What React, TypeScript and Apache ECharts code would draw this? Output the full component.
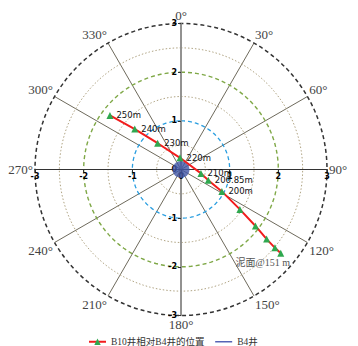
import React, { useEffect, useRef } from 'react';
import * as echarts from 'echarts';

// Offsets of B10 relative to B4 (east = x, north = y)
const depthLabels = ['250m', '240m', '230m', '220m', '210m', '206.85m', '200m', '', '', '', '', '泥面@151 m'];
const eastOffsets = [-1.46, -0.95, -0.48, -0.02, 0.41, 0.56, 0.84, 1.21, 1.53, 1.76, 1.93, 2.05];
const northOffsets = [1.11, 0.83, 0.54, 0.24, -0.08, -0.22, -0.45, -0.82, -1.16, -1.43, -1.61, -1.72];

const axisTicks = [-3, -2, -1, 0, 1, 2, 3];
const ringRadii = [0.5, 1, 1.5, 2, 2.5];
const angleTicks = [0, 30, 60, 90, 120, 150, 180, 210, 240, 270, 300, 330];

const seriesB10 = 'B10井相对B4井的位置';
const seriesB4 = 'B4井';

const ringStyles: Record<string, any> = {
  '0.5': { color: '#b0a483', type: [1.5, 2], width: 1 },
  '1': { color: '#2a9ee0', type: [4, 3], width: 1.3 },
  '1.5': { color: '#b0a483', type: [1.5, 2], width: 1 },
  '2': { color: '#7fa847', type: [4, 3], width: 1.4 },
  '2.5': { color: '#b0a483', type: [1.5, 2], width: 1 },
};

function ringPoints(r: number): number[][] {
  const pts: number[][] = [];
  for (let d = 0; d <= 360; d += 3) {
    const a = (d * Math.PI) / 180;
    pts.push([r * Math.sin(a), r * Math.cos(a)]);
  }
  return pts;
}

export default function App() {
  const ref = useRef<HTMLDivElement>(null);
  useEffect(() => {
    const chart = echarts.init(ref.current!, null, { renderer: 'svg' });
    const cx = 181;
    const cy = 169.5;
    const R = 146;

    const ringSeries = ringRadii.map((r) => ({
      type: 'line',
      name: 'ring' + r,
      data: ringPoints(r),
      symbol: 'none',
      silent: true,
      smooth: false,
      lineStyle: ringStyles[String(r)],
      z: 1,
    }));

    const b10Data = eastOffsets.map((x, i) => {
      const item: any = { value: [x, northOffsets[i]] };
      const lab = depthLabels[i];
      if (lab) {
        if (lab.indexOf('泥面') >= 0) {
          item.label = {
            show: true,
            position: 'bottom',
            offset: [-18, -4],
            formatter: lab,
            fontFamily: 'Liberation Serif, Noto Sans CJK SC, serif',
            fontSize: 10,
            color: '#555',
          };
        } else {
          item.label = {
            show: true,
            position: 'right',
            distance: 3,
            formatter: lab,
            fontFamily: 'DejaVu Sans, sans-serif',
            fontSize: 8.5,
            color: '#111',
          };
        }
      }
      return item;
    });

    const axisLabelStyle = {
      fontSize: 8,
      fontWeight: 'bold',
      color: '#000',
      fontFamily: 'DejaVu Sans, sans-serif',
      formatter: (v: number) => (axisTicks.indexOf(v) >= 0 ? String(v) : ''),
    };

    const option: any = {
      animation: false,
      backgroundColor: '#fff',
      legend: {
        left: 83,
        top: 332,
        itemWidth: 17,
        itemHeight: 8,
        itemGap: 10,
        data: [
          { name: seriesB10 },
          { name: seriesB4, itemStyle: { color: 'rgba(0,0,0,0)', opacity: 0 }, lineStyle: { color: '#5563b5', width: 1.5 } },
        ],
        textStyle: {
          fontFamily: 'Liberation Serif, Noto Sans CJK SC, serif',
          fontSize: 9.5,
          color: '#333',
        },
      },
      polar: { center: [cx, cy], radius: R },
      angleAxis: {
        type: 'value',
        min: 0,
        max: 360,
        interval: 30,
        startAngle: 90,
        clockwise: true,
        axisLine: { show: true, lineStyle: { color: '#333', type: [4, 3], width: 1.5 } },
        axisTick: { show: false },
        splitLine: { show: true, lineStyle: { color: '#6e6a5c', width: 1 } },
        axisLabel: {
          margin: 2,
          fontFamily: 'Liberation Serif, serif',
          fontSize: 13,
          color: '#444',
          formatter: (v: number) => (angleTicks.indexOf(v) >= 0 ? v + '°' : ''),
        },
      },
      radiusAxis: {
        min: 0,
        max: 3,
        show: false,
        axisLine: { show: false },
        axisTick: { show: false },
        axisLabel: { show: false },
        splitLine: { show: false },
      },
      grid: { left: cx - R, top: cy - R, width: 2 * R, height: 2 * R, containLabel: false },
      xAxis: {
        type: 'value',
        min: -3,
        max: 3,
        interval: 1,
        position: 'bottom',
        offset: -R,
        axisLine: { onZero: false, lineStyle: { color: '#333', width: 1.2 } },
        axisTick: { show: true, length: 3, lineStyle: { color: '#333' } },
        splitLine: { show: false },
        axisLabel: { margin: 3, ...axisLabelStyle },
        z: 3,
      },
      yAxis: {
        type: 'value',
        min: -3,
        max: 3,
        interval: 1,
        position: 'left',
        offset: -R,
        axisLine: { onZero: false, lineStyle: { color: '#8a8a8a', width: 1.6 } },
        axisTick: { show: true, length: 3, lineStyle: { color: '#333' } },
        splitLine: { show: false },
        axisLabel: { margin: 4, ...axisLabelStyle },
        z: 3,
      },
      series: [
        ...ringSeries,
        {
          type: 'scatter',
          name: 'B4disc',
          data: [[0, 0]],
          symbol: 'circle',
          symbolSize: 17,
          itemStyle: { color: '#4156a6' },
          silent: true,
          z: 4,
        },
        {
          type: 'line',
          name: seriesB4,
          data: [],
          symbol: 'none',
          lineStyle: { color: '#5563b5', width: 1.5 },
          itemStyle: { color: '#5563b5' },
        },
        {
          type: 'line',
          name: seriesB10,
          data: b10Data,
          symbol: 'triangle',
          symbolSize: 7,
          showAllSymbol: true,
          lineStyle: { color: '#f21d1d', width: 2 },
          itemStyle: { color: '#2fa84f' },
          z: 5,
        },
      ],
    };
    chart.setOption(option);
    return () => chart.dispose();
  }, []);
  return (
    <div
      ref={ref}
      style={{ position: 'fixed', left: 0, top: 0, width: 358, height: 346 }}
    />
  );
}
